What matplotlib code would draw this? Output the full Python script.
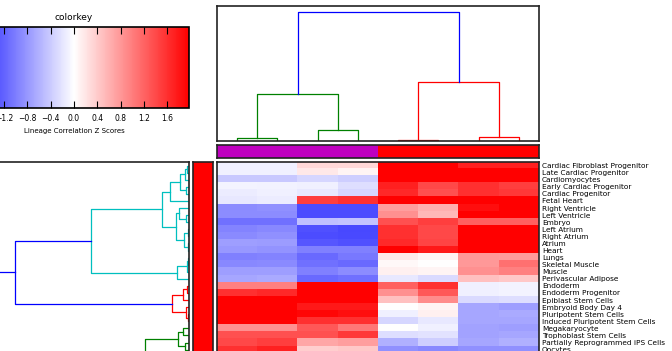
import numpy as np
import matplotlib
matplotlib.use("Agg")
import matplotlib.pyplot as plt
from matplotlib.colors import Normalize, ListedColormap
from matplotlib.colorbar import ColorbarBase

# ---- data -------------------------------------------------------------
row_labels = [
    "Cardiac Fibroblast Progenitor", "Late Cardiac Progenitor", "Cardiomyocytes",
    "Early Cardiac Progenitor", "Cardiac Progenitor", "Fetal Heart",
    "Right Ventricle", "Left Ventricle", "Embryo", "Left Atrium", "Right Atrium",
    "Atrium", "Heart", "Lungs", "Skeletal Muscle", "Muscle", "Perivascular Adipose",
    "Endoderm", "Endoderm Progenitor", "Epiblast Stem Cells", "Embryoid Body Day 4",
    "Pluripotent Stem Cells", "Induced Pluripotent Stem Cells", "Megakaryocyte",
    "Trophoblast Stem Cells", "Partially Reprogrammed iPS Cells", "Oocytes",
    # rows below are cut off by the bottom of the image
    "", "", "", "",
]

z_scores = [
    [-0.12, -0.12, 0.30, 0.30, 2.00, 2.00, 1.72, 1.72],
    [-0.12, -0.12, 0.18, 0.08, 2.00, 2.00, 2.00, 2.00],
    [-0.43, -0.43, -0.31, -0.37, 2.00, 2.00, 2.00, 2.00],
    [-0.08, -0.10, -0.12, -0.25, 1.72, 1.41, 1.60, 1.48],
    [-0.15, -0.12, -0.18, -0.31, 1.66, 1.35, 1.60, 1.53],
    [-0.18, -0.15, 1.48, 1.60, 2.00, 2.00, 2.00, 2.00],
    [-0.89, -0.86, -1.38, -1.38, 0.74, 0.61, 1.85, 2.00],
    [-0.89, -0.89, -1.38, -1.38, 0.86, 0.55, 2.00, 2.00],
    [-1.10, -1.10, -0.49, -0.46, 1.35, 1.48, 1.23, 1.23],
    [-0.95, -0.92, -1.35, -1.41, 1.60, 1.41, 2.00, 2.00],
    [-0.90, -0.86, -1.38, -1.40, 1.60, 1.41, 2.00, 2.00],
    [-0.74, -0.76, -1.30, -1.35, 1.64, 1.44, 2.00, 2.00],
    [-0.80, -0.82, -0.98, -0.98, 2.00, 1.78, 2.00, 2.00],
    [-0.98, -0.95, -1.14, -1.04, 0.18, 0.08, 0.80, 0.77],
    [-0.92, -0.90, -1.10, -1.14, 0.05, 0.00, 0.80, 1.10],
    [-0.74, -0.74, -0.98, -0.89, 0.12, 0.08, 0.86, 0.98],
    [-0.68, -0.66, -1.14, -1.10, -0.18, -0.28, 0.49, 0.43],
    [0.98, 0.98, 2.00, 2.00, 1.23, 1.60, -0.12, -0.08],
    [1.60, 1.66, 2.00, 2.00, 0.86, 1.29, -0.12, -0.08],
    [2.00, 2.00, 2.00, 2.00, 0.49, 0.89, -0.28, -0.25],
    [2.00, 2.00, 1.78, 1.78, 0.00, 0.08, -0.68, -0.74],
    [2.00, 2.00, 1.91, 1.85, -0.12, 0.12, -0.68, -0.66],
    [2.00, 2.00, 1.60, 1.60, -0.31, -0.18, -0.68, -0.68],
    [0.86, 0.86, 1.29, 1.04, 0.00, -0.12, -0.71, -0.74],
    [1.35, 1.35, 1.35, 1.53, -0.25, -0.22, -0.71, -0.68],
    [1.41, 1.48, 0.68, 0.74, -0.61, -0.37, -0.68, -0.61],
    [1.60, 1.72, 0.37, 0.43, -0.86, -0.92, -0.86, -0.86],
    [1.50, 1.55, 0.40, 0.45, -0.80, -0.85, -0.85, -0.85],
    [1.40, 1.45, 0.50, 0.50, -0.75, -0.80, -0.80, -0.80],
    [1.30, 1.35, 0.45, 0.50, -0.70, -0.75, -0.80, -0.80],
    [1.30, 1.30, 0.40, 0.45, -0.70, -0.70, -0.75, -0.75],
]

row_groups = [0] * len(row_labels)
col_groups = [0, 0, 0, 0, 1, 1, 1, 1]

# dendrograms: (left, right, height), leaves are row / column indices
row_tree = (
    (
        (
            ((((0, 1, 2), 2, 4), (3, 4, 3), 9), 5, 19),
            ((6, (7, 8, 3), 10), ((9, 10, 1.5), (11, 12, 1.5), 5), 13.5),
            27.3,
        ),
        ((((13, 14, 1), 15, 2), 16, 12)),
        98,
    ),
    (((17, 18, 2), 19, 6), (20, (21, 22, 1.5), 3), 17.3),
    174,
)
row_tree = (
    row_tree,
    (((23, 24, 6), (25, 26, 4), 11), ((27, 28, 3), (29, 30, 5), 15), 44),
    228,
)
row_cluster_colors = {0: "c", 17: "r", 23: "g"}
row_threshold = 150

col_tree = (((0, 1, 2.7), (2, 3, 11), 47.3), ((4, 5, 1), (6, 7, 3.7), 59.3), 128.3)
col_cluster_colors = {0: "g", 4: "r"}
col_threshold = 100

vmax = 1.97
cbar_ticks = [-1.6, -1.2, -0.8, -0.4, 0.0, 0.4, 0.8, 1.2, 1.6]

# ---- layout -----------------------------------------------------------
W, H = 672, 351
fig = plt.figure(figsize=(W / 100, H / 100), dpi=100)
plt.rcParams["font.family"] = "DejaVu Sans"

n_rows = len(row_labels)
row_h = 7.08
heat_top = 162
heat_bot = heat_top + n_rows * row_h


def px_axes(x0, y0, x1, y1):
    return fig.add_axes([x0 / W, 1 - y1 / H, (x1 - x0) / W, (y1 - y0) / H])


def first_leaf(node):
    while not isinstance(node, int):
        node = node[0]
    return node


def draw_tree(ax, node, cluster_colors, threshold, orient, color=None):
    if isinstance(node, int):
        return node, 0.0
    left, right, h = node
    if color is None and h < threshold:
        color = cluster_colors[first_leaf(node)]
    p1, h1 = draw_tree(ax, left, cluster_colors, threshold, orient, color)
    p2, h2 = draw_tree(ax, right, cluster_colors, threshold, orient, color)
    c = color if color else "b"
    pos = [p1, p1, p2, p2]
    hts = [h1, h, h, h2]
    if orient == "top":
        ax.plot(pos, hts, color=c, lw=0.9)
    else:
        ax.plot(hts, pos, color=c, lw=0.9)
    return (p1 + p2) / 2, h


def frame(ax, lw=1.2):
    for s in ax.spines.values():
        s.set_linewidth(lw)
        s.set_color("#222222")


# colour key
ax_cb = px_axes(-41, 27, 189, 108)
cb = ColorbarBase(ax_cb, cmap="bwr", norm=Normalize(-vmax, vmax), orientation="horizontal")
cb.set_ticks(cbar_ticks)
cb.ax.tick_params(direction="in", top=True, bottom=True, length=5, width=0.8,
                  labelsize=5.5, pad=4)
cb.outline.set_linewidth(1.2)
ax_cb.set_title("colorkey", fontsize=6.5, pad=5)
cb.set_label("Lineage Correlation Z Scores", fontsize=5, labelpad=4)

# column dendrogram
ax_cd = px_axes(217, 6, 539, 141)
draw_tree(ax_cd, col_tree, col_cluster_colors, col_threshold, "top")
ax_cd.set_xlim(-0.5, len(col_groups) - 0.5)
ax_cd.set_ylim(0, col_tree[2] * 1.05)
ax_cd.set_xticks([])
ax_cd.set_yticks([])
frame(ax_cd)

# column colour bar
ax_cc = px_axes(217, 145, 539, 158)
ax_cc.imshow([col_groups], cmap=ListedColormap([(0.75, 0, 0.75), (1, 0, 0)]),
             aspect="auto", interpolation="nearest")
ax_cc.set_xticks([])
ax_cc.set_yticks([])
frame(ax_cc)

# row dendrogram
ax_rd = px_axes(189 - row_tree[2] * 1.05, heat_top, 189, heat_bot)
draw_tree(ax_rd, row_tree, row_cluster_colors, row_threshold, "left")
ax_rd.set_ylim(n_rows - 0.5, -0.5)
ax_rd.set_xlim(row_tree[2] * 1.05, 0)
ax_rd.set_xticks([])
ax_rd.set_yticks([])
frame(ax_rd)

# row colour bar
ax_rc = px_axes(193, heat_top, 213, heat_bot)
ax_rc.imshow(np.array(row_groups)[:, None], cmap=ListedColormap([(1, 0, 0)]),
             aspect="auto", interpolation="nearest")
ax_rc.set_xticks([])
ax_rc.set_yticks([])
frame(ax_rc)

# heatmap
ax_h = px_axes(217, heat_top, 539, heat_bot)
ax_h.imshow(np.array(z_scores), cmap="bwr", vmin=-vmax, vmax=vmax,
            aspect="auto", interpolation="nearest")
ax_h.set_xticks([])
ax_h.yaxis.tick_right()
ax_h.set_yticks(range(n_rows))
ax_h.set_yticklabels(row_labels, fontsize=5.3)
ax_h.tick_params(axis="y", length=0, pad=2)
frame(ax_h)

fig.savefig("out.png", dpi=100)
